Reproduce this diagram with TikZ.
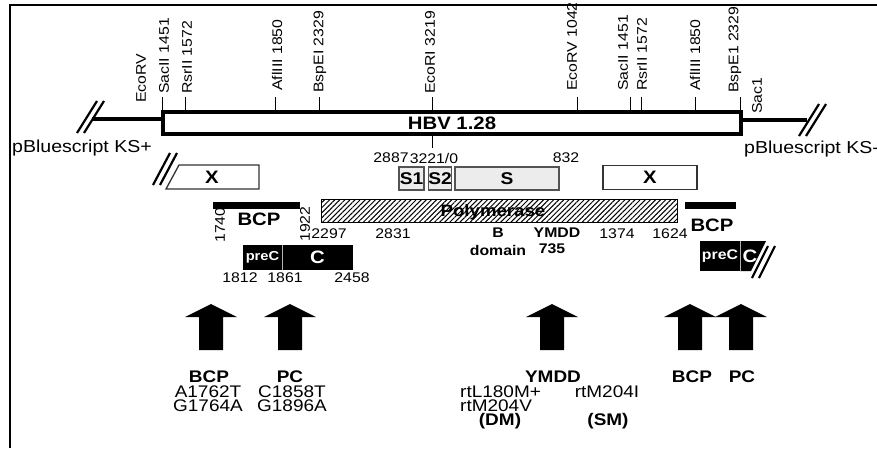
\documentclass[tikz,border=0pt]{standalone}
\usepackage{fontspec}
\setmainfont[FakeStretch=1.13]{Liberation Sans}
\usetikzlibrary{patterns.meta}
\tikzset{
  lbl/.style={inner sep=0pt, font=\fontsize{14}{16}\selectfont},
  blbl/.style={inner sep=0pt, font=\bfseries\fontsize{14}{16}\selectfont},
  site/.style={inner sep=0pt, rotate=90, anchor=west, font=\fontsize{14}{16}\selectfont},
  rnum/.style={inner sep=0pt, rotate=90, font=\fontsize{14}{16}\selectfont},
  big/.style={inner sep=0pt, font=\fontsize{16.8}{20}\selectfont},
  bbig/.style={inner sep=0pt, font=\bfseries\fontsize{16.8}{20}\selectfont},
  tickline/.style={line width=1pt},
  sbox/.style={draw=gray!65!black, line width=1.2pt, fill=gray!15, inner sep=0pt, font=\bfseries\fontsize{17}{18}\selectfont},
  xbox/.style={draw=black!80, line width=1.3pt, fill=white},
  slashline/.style={line width=2.2pt},
  blackbox/.style={fill=black, inner sep=0pt, text=white},
  bar/.style={fill=black, inner sep=0pt, minimum height=7pt},
  uparr/.pic={\fill (0,0) -- (26,13) -- (12,13) -- (12,46) -- (-12,46) -- (-12,13) -- (-26,13) -- cycle;}
}
\begin{document}
\begin{tikzpicture}[x=1pt,y=-1pt]
\useasboundingbox (0,0) rectangle (877,448);
% frame (top and left)
\draw[line width=2pt] (10,448) -- (10,5) -- (877,5);

% HBV box
\node[draw, line width=4pt, minimum width=578pt, minimum height=22pt, inner sep=0pt,
      font=\bfseries\fontsize{18}{20}\selectfont] (hbv) at (452,123) {HBV 1.28};
\coordinate (lend) at (92,119);
\coordinate (rend) at (807,120);
\draw[line width=3.5pt] (lend) -- (lend -| hbv.west);
\draw[line width=3.5pt] (rend -| hbv.east) -- (rend);
\draw[slashline] (77,133) -- (97,101);
\draw[slashline] (84,133) -- (104,101);
\draw[slashline] (799,136) -- (819,104);
\draw[slashline] (806,136) -- (826,104);
\node[inner sep=0pt, anchor=west, font=\fontsize{17.3}{20}\selectfont] (pbl) at (12,148) {pBluescript KS+};
\node[inner sep=0pt, anchor=west, font=\fontsize{17.3}{20}\selectfont] (pbr) at (744,149) {pBluescript KS-};

% restriction sites
\node[site] (ecorvA) at (141,103) {EcoRV};
\node[site] (sacA) at (164,94) {SacII 1451};
\node[site] (rsrA) at (187,94) {RsrII 1572};
\node[site] (aflA) at (277,91) {AflIII 1850};
\node[site] (bspA) at (320,93) {BspEI 2329};
\node[site] (ecori) at (430,94) {EcoRI 3219};
\node[site] (ecorvB) at (572,91) {EcoRV 1042};
\node[site] (sacB) at (623,91) {SacII 1451};
\node[site] (rsrB) at (642,91) {RsrII 1572};
\node[site] (aflB) at (695,91) {AflIII 1850};
\node[site] (bspB) at (735,93) {BspE1 2329};
\node[site] (sacC) at (757,114) {Sac1};
\foreach \t in {162,185,275,319,432,577,630,641,695,740}
  \draw[tickline] (\t,97) -- (\t,110);
\draw[tickline] (432,136) -- (432,148);

% S region
\node[lbl] (n2887) at (391,158) {2887};
\node[lbl] (n3221) at (434,158) {3221/0};
\node[lbl] (n832) at (566,158) {832};
\node[sbox, minimum width=25pt, minimum height=23pt] (s1) at (411.5,178.5) {S1};
\node[sbox, minimum width=22pt, minimum height=23pt] (s2) at (440,178.5) {S2};
\node[sbox, minimum width=104pt, minimum height=23pt] (sS) at (507,178.5) {S};

% X boxes
\draw[xbox] (179,165) -- (259,165) -- (259,189) -- (166,189) -- cycle;
\node[inner sep=0pt, font=\bfseries\fontsize{18}{20}\selectfont] (xA) at (212,177) {X};
\draw[slashline] (153,185) -- (170,153);
\draw[slashline] (160,185) -- (177,153);
\node[xbox, minimum width=94pt, minimum height=24pt, inner sep=0pt,
      font=\bfseries\fontsize{18}{20}\selectfont] (xB) at (650,177.5) {X};

% Polymerase
\node[draw, line width=1pt, minimum width=356pt, minimum height=23pt, inner sep=0pt,
      pattern={Lines[angle=45,distance=3.6pt,line width=1pt]}] (pol) at (499,211) {};
\node[inner sep=0pt, font=\bfseries\fontsize{16.5}{18}\selectfont] (polt) at (493,212) {Polymerase};
\node[lbl] (n2297) at (329,234) {2297};
\node[lbl] (n2831) at (393,234) {2831};
\node[blbl] (nB) at (498,233) {B};
\node[blbl] (ndom) at (498,250) {domain};
\node[blbl] (nymdd) at (557,233) {YMDD};
\node[blbl] (n735) at (552,249) {735};
\node[lbl] (n1374) at (617,234) {1374};
\node[lbl] (n1624) at (670,234) {1624};

% BCP bars
\node[bar, minimum width=87pt] (bcpA) at (256.5,205.5) {};
\node[inner sep=0pt, font=\bfseries\fontsize{18}{20}\selectfont] (bcpAt) at (259,219) {BCP};
\node[rnum] (n1740) at (220,225) {1740};
\node[rnum] (n1922) at (305,224) {1922};
\node[bar, minimum width=51pt] (bcpB) at (710.5,205.5) {};
\node[inner sep=0pt, font=\bfseries\fontsize{18}{20}\selectfont] (bcpBt) at (712,225) {BCP};

% preC / C left
\node[blackbox, minimum width=39pt, minimum height=25pt, font=\bfseries\fontsize{13}{14}\selectfont] (precA) at (262.5,257.5) {preC};
\node[blackbox, minimum width=71pt, minimum height=25pt, font=\bfseries\fontsize{18}{20}\selectfont] (cA) at (317.5,257.5) {C};
\draw[gray!60, line width=0.6pt] (precA.north east) -- (precA.south east);
\node[lbl] (n1812) at (240,278) {1812};
\node[lbl] (n1861) at (285,278) {1861};
\node[lbl] (n2458) at (352,278) {2458};

% preC / C right
\node[blackbox, minimum width=40pt, minimum height=30pt, font=\bfseries\fontsize{14}{16}\selectfont] (precB) at (720,256) {preC};
\fill (740,241) -- (766,241) -- (751,271) -- (740,271) -- cycle;
\draw[gray!60, line width=0.6pt] (precB.north east) -- (precB.south east);
\node[inner sep=0pt, text=white, font=\bfseries\fontsize{18}{20}\selectfont] (cB) at (750,256) {C};
\draw[slashline] (752,278) -- (768,246);
\draw[slashline] (759,278) -- (775,246);

% block arrows
\pic at (211,304) {uparr};
\pic at (290,304) {uparr};
\pic at (552,304) {uparr};
\pic at (690,304) {uparr};
\pic at (741,304) {uparr};

% mutation texts
\node[bbig] (mBCP) at (209,377) {BCP};
\node[big] (mA) at (208,391.5) {A1762T};
\node[big] (mG) at (208,406) {G1764A};
\node[bbig] (mPC) at (290,377) {PC};
\node[big] (mC) at (292,391.5) {C1858T};
\node[big] (mG2) at (292,406) {G1896A};
\node[bbig] (mY) at (553,377) {YMDD};
\node[big, anchor=west] (mL) at (460,391.5) {rtL180M+};
\node[big, anchor=west] (mV) at (460,406) {rtM204V};
\node[bbig] (mDM) at (500,421) {(DM)};
\node[big] (mI) at (607,391.5) {rtM204I};
\node[bbig] (mSM) at (608,421) {(SM)};
\node[bbig] (mBCP2) at (692,377) {BCP};
\node[bbig] (mPC2) at (742,377) {PC};
\end{tikzpicture}
\end{document}
